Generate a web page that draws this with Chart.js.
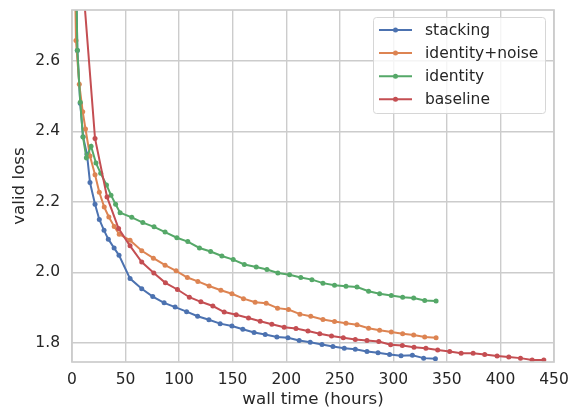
<!DOCTYPE html>
<html>
<head>
<meta charset="utf-8">
<script src="https://cdn.jsdelivr.net/npm/chart.js@4.4.0/dist/chart.umd.min.js"></script>
<style>
  html, body { margin: 0; padding: 0; background: #ffffff; }
  #chart { display: block; }
</style>
</head>
<body>
<canvas id="chart" width="571" height="410"></canvas>
<script>
// values
const seriesNames = ['stacking', 'identity+noise', 'identity', 'baseline'];
const seriesColors = ['#4C72B0', '#DD8452', '#55A868', '#C44E52'];

const stackingHours = [2.5, 5.0, 7.7, 10.3, 14.0, 16.8, 21.5, 25.5, 29.9, 33.9,
    39.3, 43.9, 54.2, 65.1, 75.4, 86.0, 96.3, 107.0, 117.3, 127.8,
    138.3, 149.3, 159.5, 170.0, 180.4, 191.3, 201.6, 212.1, 222.4, 233.4,
    243.6, 254.2, 264.5, 275.4, 285.7, 296.5, 307.2, 317.8, 328.3, 339.3];
const stackingLoss = [3.05, 2.63, 2.48, 2.385, 2.335, 2.255, 2.193, 2.150, 2.119, 2.094,
    2.069, 2.048, 1.982, 1.953, 1.931, 1.913, 1.901, 1.888, 1.875, 1.865,
    1.854, 1.847, 1.838, 1.829, 1.823, 1.816, 1.814, 1.806, 1.801, 1.795,
    1.789, 1.784, 1.781, 1.775, 1.771, 1.766, 1.763, 1.764, 1.756, 1.754];

const noiseHours = [1.5, 3.7, 6.8, 10.0, 12.6, 16.8, 21.5, 25.5, 30.1, 34.4,
    39.4, 44.1, 54.2, 65.1, 76.0, 86.9, 97.2, 107.7, 117.5, 128.0,
    139.0, 149.3, 160.1, 171.0, 181.3, 191.9, 202.1, 212.8, 222.9, 234.3,
    245.1, 255.8, 266.1, 276.9, 287.2, 298.1, 308.7, 319.0, 329.3, 339.9];
const noiseLoss = [3.1, 2.658, 2.534, 2.456, 2.407, 2.330, 2.277, 2.227, 2.185, 2.157,
    2.130, 2.108, 2.091, 2.061, 2.040, 2.020, 2.004, 1.985, 1.974, 1.961,
    1.949, 1.939, 1.925, 1.915, 1.912, 1.898, 1.894, 1.881, 1.875, 1.866,
    1.860, 1.855, 1.851, 1.841, 1.835, 1.830, 1.825, 1.822, 1.816, 1.814];

const identityHours = [2.5, 5.0, 7.7, 10.3, 13.4, 17.8, 22.4, 26.8, 32.2, 36.4,
    40.7, 44.9, 55.8, 66.1, 76.6, 86.9, 97.9, 108.1, 119.0, 129.4,
    139.9, 150.5, 160.9, 172.0, 182.0, 192.2, 203.1, 213.6, 224.0, 234.3,
    245.1, 255.8, 266.1, 276.9, 287.2, 298.1, 308.7, 319.0, 329.3, 339.9];
const identityLoss = [3.1, 2.631, 2.483, 2.384, 2.325, 2.358, 2.310, 2.281, 2.248, 2.219,
    2.193, 2.169, 2.156, 2.141, 2.129, 2.114, 2.098, 2.087, 2.069, 2.059,
    2.046, 2.036, 2.022, 2.015, 2.008, 1.998, 1.993, 1.985, 1.979, 1.969,
    1.963, 1.960, 1.958, 1.946, 1.939, 1.934, 1.929, 1.927, 1.920, 1.918];

const baselineHours = [10.5, 21.5, 32.7, 43.5, 54.2, 65.1, 76.4, 87.2, 98.4, 109.6,
    120.3, 131.5, 142.1, 153.3, 164.8, 175.7, 186.6, 198.1, 209.1, 220.3,
    231.3, 242.3, 253.3, 264.5, 275.4, 286.4, 297.5, 308.4, 319.3, 330.4,
    341.4, 352.6, 363.3, 374.5, 385.3, 396.9, 407.8, 418.7, 429.6, 440.5];
const baselineLoss = [2.81, 2.380, 2.214, 2.124, 2.075, 2.029, 1.998, 1.970, 1.951, 1.929,
    1.916, 1.904, 1.887, 1.879, 1.870, 1.861, 1.852, 1.844, 1.840, 1.833,
    1.825, 1.819, 1.814, 1.809, 1.806, 1.803, 1.794, 1.792, 1.787, 1.784,
    1.779, 1.775, 1.770, 1.770, 1.766, 1.762, 1.759, 1.756, 1.751, 1.751];

const xTicks = [0, 50, 100, 150, 200, 250, 300, 350, 400, 450];
const yTicks = [1.8, 2.0, 2.2, 2.4, 2.6];

const allHours = [stackingHours, noiseHours, identityHours, baselineHours];
const allLoss = [stackingLoss, noiseLoss, identityLoss, baselineLoss];

const textColor = '#262626';
const gridColor = '#cccccc';
const fontFamily = "'DejaVu Sans', sans-serif";

function toPoints(hours, loss) {
    return hours.map((h, i) => ({ x: h, y: loss[i] }));
}

const datasets = seriesNames.map((name, i) => ({
    label: name,
    data: toPoints(allHours[i], allLoss[i]),
    borderColor: seriesColors[i],
    backgroundColor: seriesColors[i],
    borderWidth: 2,
    pointRadius: 2.5,
    pointBorderWidth: 0,
    pointBackgroundColor: seriesColors[i],
    tension: 0,
    fill: false,
    // matplotlib draws later series on top
    order: seriesNames.length - i
}));

// axes frame like the seaborn whitegrid spines
const framePlugin = {
    id: 'frame',
    afterDatasetsDraw(chart) {
        const a = chart.chartArea;
        const ctx = chart.ctx;
        ctx.save();
        ctx.strokeStyle = gridColor;
        ctx.lineWidth = 1.7;
        ctx.strokeRect(a.left, a.top, a.right - a.left, a.bottom - a.top);
        ctx.restore();
    }
};

// legend box in the upper right corner
const boxLegend = {
    id: 'boxLegend',
    afterDraw(chart) {
        const a = chart.chartArea;
        const ctx = chart.ctx;
        const w = 172, h = 96;
        const x0 = a.right - 8.5 - w, y0 = a.top + 7.5;
        ctx.save();
        ctx.beginPath();
        ctx.roundRect(x0, y0, w, h, 3);
        ctx.fillStyle = 'rgba(255,255,255,0.8)';
        ctx.fill();
        ctx.strokeStyle = '#d6d6d6';
        ctx.lineWidth = 1;
        ctx.stroke();
        ctx.font = '15.5px ' + fontFamily;
        ctx.textBaseline = 'middle';
        ctx.fillStyle = textColor;
        seriesNames.forEach((name, i) => {
            const y = y0 + 12.5 + i * 23.1;
            ctx.strokeStyle = seriesColors[i];
            ctx.lineWidth = 2;
            ctx.beginPath();
            ctx.moveTo(x0 + 5.5, y);
            ctx.lineTo(x0 + 38.5, y);
            ctx.stroke();
            ctx.beginPath();
            ctx.fillStyle = seriesColors[i];
            ctx.arc(x0 + 22, y, 2.5, 0, Math.PI * 2);
            ctx.fill();
            ctx.fillStyle = textColor;
            ctx.fillText(name, x0 + 51.5, y + 1);
        });
        ctx.restore();
    }
};

const ctx = document.getElementById('chart').getContext('2d');

new Chart(ctx, {
    type: 'line',
    data: { datasets: datasets },
    options: {
        responsive: false,
        animation: false,
        layout: { padding: { top: 10, right: 17, left: 0, bottom: 0 } },
        plugins: {
            legend: { display: false },
            tooltip: { enabled: false }
        },
        scales: {
            x: {
                type: 'linear',
                min: 0,
                max: 450,
                afterBuildTicks: scale => { scale.ticks = xTicks.map(v => ({ value: v })); },
                afterFit: scale => {
                    scale.height = 48;
                    scale.paddingLeft = 0;
                    scale.paddingRight = 0;
                },
                ticks: {
                    color: textColor,
                    font: { family: fontFamily, size: 15.5 },
                    padding: 9,
                    maxRotation: 0,
                    autoSkip: false
                },
                grid: { color: gridColor, lineWidth: 1.4, drawTicks: false },
                border: { display: false },
                title: {
                    display: true,
                    text: 'wall time (hours)',
                    color: textColor,
                    font: { family: fontFamily, size: 16.7 },
                    padding: { top: 4, bottom: 0 }
                }
            },
            y: {
                type: 'linear',
                min: 1.745,
                max: 2.745,
                afterBuildTicks: scale => { scale.ticks = yTicks.map(v => ({ value: v })); },
                afterFit: scale => {
                    scale.width = 72;
                    scale.paddingTop = 0;
                    scale.paddingBottom = 0;
                },
                ticks: {
                    color: textColor,
                    font: { family: fontFamily, size: 15.5 },
                    padding: 12,
                    callback: v => v.toFixed(1)
                },
                grid: { color: gridColor, lineWidth: 1.4, drawTicks: false },
                border: { display: false },
                title: {
                    display: true,
                    text: 'valid loss',
                    color: textColor,
                    font: { family: fontFamily, size: 16.7 },
                    padding: { top: 10, bottom: 0 }
                }
            }
        }
    },
    plugins: [framePlugin, boxLegend]
});
</script>
</body>
</html>
